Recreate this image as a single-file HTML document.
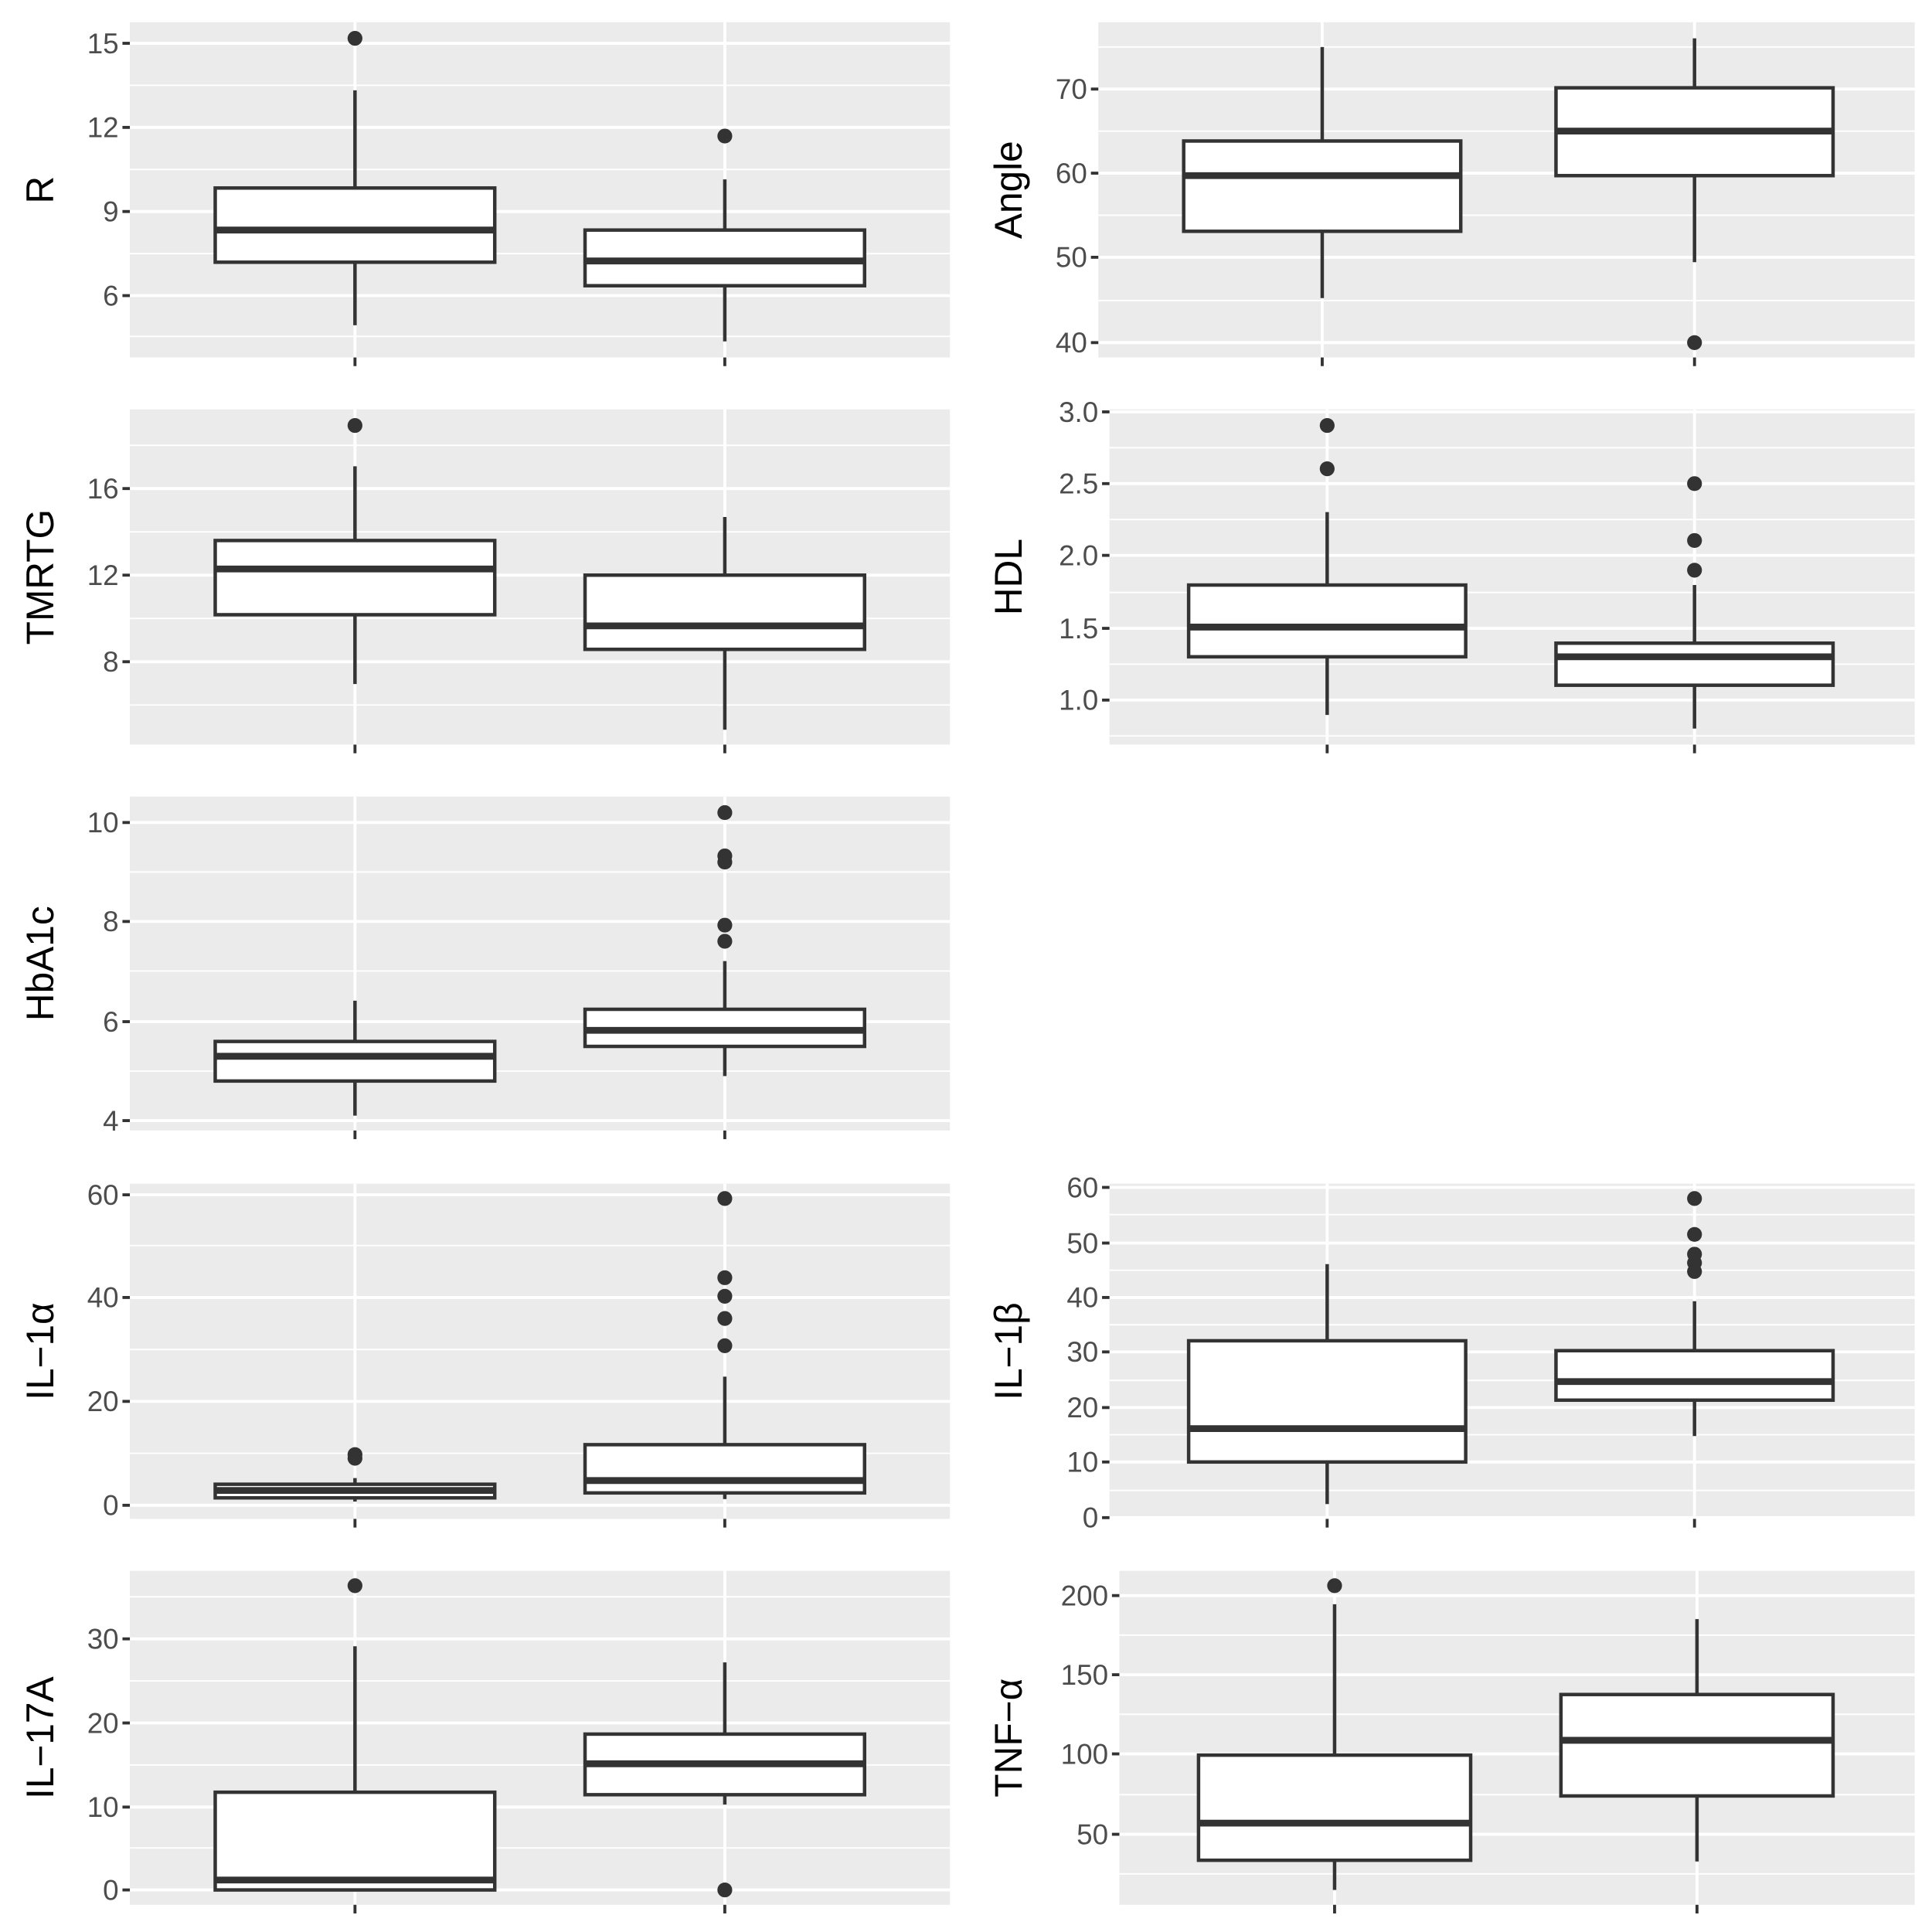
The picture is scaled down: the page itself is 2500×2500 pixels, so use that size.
<!DOCTYPE html>
<html><head><meta charset="utf-8"><style>html,body{margin:0;padding:0;background:#fff}svg{display:block}</style></head>
<body>
<svg id="s" width="2500" height="2500" viewBox="0 0 1562 1562" xmlns="http://www.w3.org/2000/svg" font-family="Liberation Sans, sans-serif"></svg>
<script>
const P=[
{x0:105,x1:768,y0:18,y1:289,t:"R",tx:[287,586],hw:113,ticks:[[15,35],[12,103],[9,171],[6,239]],minor:[69,137,205,272],
 b:[[73,152,186,212,263,[31]],[145,186,211,231,276,[110]]]},
{x0:888,x1:1548,y0:18,y1:289,t:"Angle",tx:[1069,1370],hw:112,ticks:[[70,72],[60,140],[50,208],[40,277]],minor:[38,106,174,243],
 b:[[38,114,142,187,241,[]],[31,71,106,142,212,[277]]]},
{x0:105,x1:768,y0:331,y1:602,t:"TMRTG",tx:[287,586],hw:113,ticks:[[16,395],[12,465],[8,535]],minor:[360,430,500,570],
 b:[[377,437,460,497,553,[344]],[418,465,506,525,590,[]]]},
{x0:897,x1:1548,y0:331,y1:602,t:"HDL",tx:[1073,1370],hw:112,ticks:[["3.0",333],["2.5",391],["2.0",449],["1.5",508],["1.0",566]],minor:[362,420,479,537,595],
 b:[[414,473,507,531,578,[344,379]],[473,520,531,554,589,[391,437,461]]]},
{x0:105,x1:768,y0:644,y1:914,t:"HbA1c",tx:[287,586],hw:113,ticks:[[10,665],[8,745],[6,826],[4,906]],minor:[705,785,866],
 b:[[809,842,854,874,902,[]],[777,816,833,846,870,[657,692,697,748,761]]]},
{x0:105,x1:768,y0:957,y1:1228,t:"IL\u22121\u03b1",tx:[287,586],hw:113,ticks:[[60,966],[40,1049],[20,1133],[0,1217]],minor:[1007,1091,1175],
 b:[[1195,1200,1205,1211,1214,[1176,1179]],[1113,1168,1197,1207,1212,[969,1033,1048,1066,1088]]]},
{x0:897,x1:1548,y0:957,y1:1228,t:"IL\u22121\u03b2",tx:[1073,1370],hw:112,ticks:[[60,960],[50,1005],[40,1049],[30,1093],[20,1138],[10,1182],[0,1227]],minor:[982,1027,1071,1116,1160,1205],
 b:[[1022,1084,1155,1182,1216,[]],[1052,1092,1117,1132,1161,[969,998,1014,1021,1028]]]},
{x0:105,x1:768,y0:1270,y1:1540,t:"IL\u221217A",tx:[287,586],hw:113,ticks:[[30,1325],[20,1393],[10,1461],[0,1528]],minor:[1291,1359,1427,1494],
 b:[[1331,1449,1520,1528,1528,[1282]],[1344,1402,1426,1451,1459,[1528]]]},
{x0:905,x1:1548,y0:1270,y1:1540,t:"TNF\u2212\u03b1",tx:[1079,1372],hw:110,ticks:[[200,1290],[150,1354],[100,1418],[50,1483]],minor:[1322,1386,1451,1515],
 b:[[1297,1419,1474,1504,1528,[1282]],[1309,1370,1407,1452,1505,[]]]}
];
let h="";
for(const p of P){
 h+=`<rect x="${p.x0}" y="${p.y0}" width="${p.x1-p.x0}" height="${p.y1-p.y0}" fill="#ebebeb"/>`;
 for(const m of p.minor) if(m>p.y0&&m<p.y1) h+=`<line x1="${p.x0}" x2="${p.x1}" y1="${m}" y2="${m}" stroke="#fff" stroke-width="1.2"/>`;
 for(const [v,y] of p.ticks){
  h+=`<line x1="${p.x0}" x2="${p.x1}" y1="${y}" y2="${y}" stroke="#fff" stroke-width="2.4"/>`;
  h+=`<line x1="${p.x0-6}" x2="${p.x0}" y1="${y}" y2="${y}" stroke="#333" stroke-width="2.4"/>`;
  h+=`<text x="${p.x0-9}" y="${y+8}" font-size="23" fill="#4d4d4d" text-anchor="end">${v}</text>`;
 }
 for(const x of p.tx){
  h+=`<line x1="${x}" x2="${x}" y1="${p.y0}" y2="${p.y1}" stroke="#fff" stroke-width="2.4"/>`;
  h+=`<line x1="${x}" x2="${x}" y1="${p.y1}" y2="${p.y1+7}" stroke="#333" stroke-width="2.4"/>`;
 }
 const lx=p.x0<500?43:826, cy=(p.y0+p.y1)/2;
 h+=`<text x="${lx}" y="${cy}" font-size="31" fill="#000" text-anchor="middle" transform="rotate(-90 ${lx} ${cy})">${p.t}</text>`;
 p.b.forEach((b,i)=>{
  const x=p.tx[i],w=p.hw;
  const [wt,q3,md,q1,wb,out]=b;
  h+=`<line x1="${x}" x2="${x}" y1="${wt}" y2="${q3}" stroke="#333" stroke-width="2.8"/>`;
  h+=`<line x1="${x}" x2="${x}" y1="${q1}" y2="${wb}" stroke="#333" stroke-width="2.8"/>`;
  h+=`<rect x="${x-w}" y="${q3}" width="${2*w}" height="${Math.max(q1-q3,0.5)}" fill="#fff" stroke="#333" stroke-width="2.8"/>`;
  h+=`<line x1="${x-w}" x2="${x+w}" y1="${md}" y2="${md}" stroke="#333" stroke-width="5.5"/>`;
  for(const o of out) h+=`<circle cx="${x}" cy="${o}" r="6" fill="#333"/>`;
 });
}
document.getElementById("s").innerHTML=h;
</script>
</body></html>
